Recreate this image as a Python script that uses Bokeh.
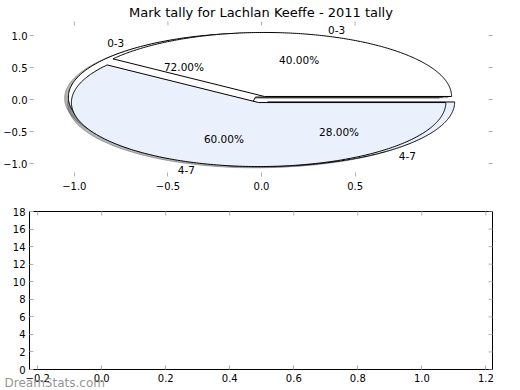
import numpy as np
from bokeh.plotting import figure
from bokeh.models import Range1d, FixedTicker, Title
from bokeh.layouts import column
from bokeh.embed import file_html
from bokeh.resources import INLINE
from bokeh.core.properties import value

# ---------------- data ----------------
title_text = "Mark tally for Lachlan Keeffe - 2011 tally"
pie_labels = ["0-3", "4-7"]
pie_front_values = [40, 60]   # pie drawn on top
pie_back_values = [72, 28]    # pie drawn beneath
slice_colors = ["#ffffff", "#eaf0fc"]

top_xticks = [-1.0, -0.5, 0.0, 0.5]
top_xtick_labels = ["\u22121.0", "\u22120.5", "0.0", "0.5"]
top_yticks = [-1.0, -0.5, 0.0, 0.5, 1.0]
top_ytick_labels = ["\u22121.0", "\u22120.5", "0.0", "0.5", "1.0"]

bottom_xticks = [-0.2, 0.0, 0.2, 0.4, 0.6, 0.8, 1.0, 1.2]
bottom_xtick_labels = ["\u22120.2", "0.0", "0.2", "0.4", "0.6", "0.8", "1.0", "1.2"]
bottom_yticks = [0, 2, 4, 6, 8, 10, 12, 14, 16, 18]
bottom_ytick_labels = ["0", "2", "4", "6", "8", "10", "12", "14", "16", "18"]

watermark_text = "DreamStats.com"

# ---------------- style ----------------
FONT = "DejaVu Sans"
TICK_COLOR = "#b0b0b0"
EXPLODE = 0.05
SHADOW_OFF = 0.02


def build_wedges(values):
    total = float(sum(values))
    start = 0.0
    out = []
    for v, col in zip(values, slice_colors):
        frac = v / total
        end = start + frac * 360.0
        mid = np.deg2rad((start + end) / 2.0)
        cx, cy = EXPLODE * np.cos(mid), EXPLODE * np.sin(mid)
        t = np.deg2rad(np.linspace(start, end, 240))
        xs = np.concatenate([[cx], cx + np.cos(t), [cx]])
        ys = np.concatenate([[cy], cy + np.sin(t), [cy]])
        out.append(dict(xs=xs, ys=ys, mid=mid, cx=cx, cy=cy, pct=frac * 100, color=col))
        start = end
    return out


def style_axis(ax, ticks, labels, standoff=3):
    ax.ticker = FixedTicker(ticks=ticks)
    ax.major_label_overrides = dict(zip(ticks, labels))
    ax.axis_line_color = None
    ax.major_tick_in = 4
    ax.major_tick_out = 0
    ax.major_tick_line_color = TICK_COLOR
    ax.major_tick_line_width = 1
    ax.minor_tick_line_color = None
    ax.major_label_text_font = FONT
    ax.major_label_text_color = "#000000"
    ax.major_label_text_font_size = "10px"
    ax.major_label_standoff = standoff


def mirror_ticks(p, xticks, yticks):
    # inward tick marks on the top and right edges (half of each dash is clipped by the frame)
    xr, yr = p.x_range, p.y_range
    p.scatter(x=xticks, y=[yr.end] * len(xticks), marker="dash", size=8, angle=np.pi / 2,
              line_color=TICK_COLOR, line_width=1)
    p.scatter(x=[xr.end] * len(yticks), y=yticks, marker="dash", size=8,
              line_color=TICK_COLOR, line_width=1)


# ---------------- top: pies ----------------
p1 = figure(width=520, height=200, output_backend="svg", toolbar_location=None,
            x_range=Range1d(-1.2394, 1.234), y_range=Range1d(-1.203, 1.219),
            min_border_left=27, min_border_right=28, min_border_top=21, min_border_bottom=24)
p1.outline_line_color = None
p1.xgrid.visible = False
p1.ygrid.visible = False
p1.background_fill_color = "#ffffff"
p1.border_fill_color = "#ffffff"

p1.title.text = title_text
p1.title.align = "center"
p1.title.text_font = FONT
p1.title.text_font_size = "13px"
p1.title.text_font_style = "normal"
p1.title.text_color = "#000000"
p1.title.standoff = 4

style_axis(p1.xaxis[0], top_xticks, top_xtick_labels, standoff=5)
style_axis(p1.yaxis[0], top_yticks, top_ytick_labels, standoff=2)
mirror_ticks(p1, top_xticks, top_yticks)

back = build_wedges(pie_back_values)
front = build_wedges(pie_front_values)

# shadows beneath everything
for w in back + front:
    r, g, b = [int(w["color"][i:i + 2], 16) for i in (1, 3, 5)]
    sc = "#%02x%02x%02x" % (int(r * 0.3), int(g * 0.3), int(b * 0.3))
    p1.patch(w["xs"] - SHADOW_OFF, w["ys"] - SHADOW_OFF, fill_color=sc, fill_alpha=0.4,
             line_color=sc, line_alpha=0.4, line_width=1)

for w in back + front:
    p1.patch(w["xs"], w["ys"], fill_color=w["color"], line_color="#000000", line_width=1)

for ws in (back, front):
    for w, lab in zip(ws, pie_labels):
        lx = w["cx"] + 1.1 * np.cos(w["mid"])
        ly = w["cy"] + 1.1 * np.sin(w["mid"])
        p1.text(x=[lx], y=[ly], text=[lab], text_align="left" if lx > 0 else "right",
                text_baseline="middle", text_font=value(FONT), text_font_size="10.5px",
                text_color="#000000")
        px = w["cx"] + 0.6 * np.cos(w["mid"])
        py = w["cy"] + 0.6 * np.sin(w["mid"])
        p1.text(x=[px], y=[py], text=["%1.2f%%" % w["pct"]], text_align="center",
                text_baseline="middle", text_font=value(FONT), text_font_size="10.5px",
                text_color="#000000")

# ---------------- bottom: empty axes ----------------
p2 = figure(width=520, height=190, output_backend="svg", toolbar_location=None,
            x_range=Range1d(-0.2256, 1.2207), y_range=Range1d(0, 18),
            min_border_left=25, min_border_right=27, min_border_top=11, min_border_bottom=21)
p2.outline_line_color = "#000000"
p2.outline_line_width = 1
p2.xgrid.visible = False
p2.ygrid.visible = False
p2.background_fill_color = "#ffffff"
p2.border_fill_color = "#ffffff"

style_axis(p2.xaxis[0], bottom_xticks, bottom_xtick_labels, standoff=4)
style_axis(p2.yaxis[0], bottom_yticks, bottom_ytick_labels, standoff=4)
mirror_ticks(p2, bottom_xticks, bottom_yticks)

wm = Title(text=watermark_text, align="left", vertical_align="top", offset=-25, standoff=-18,
           text_font=FONT, text_font_size="12px", text_font_style="normal",
           text_color="#808080", text_alpha=0.85)
p2.add_layout(wm, "below")

layout = column(p1, p2, spacing=0)
open("out.html", "w").write(file_html(layout, INLINE))
